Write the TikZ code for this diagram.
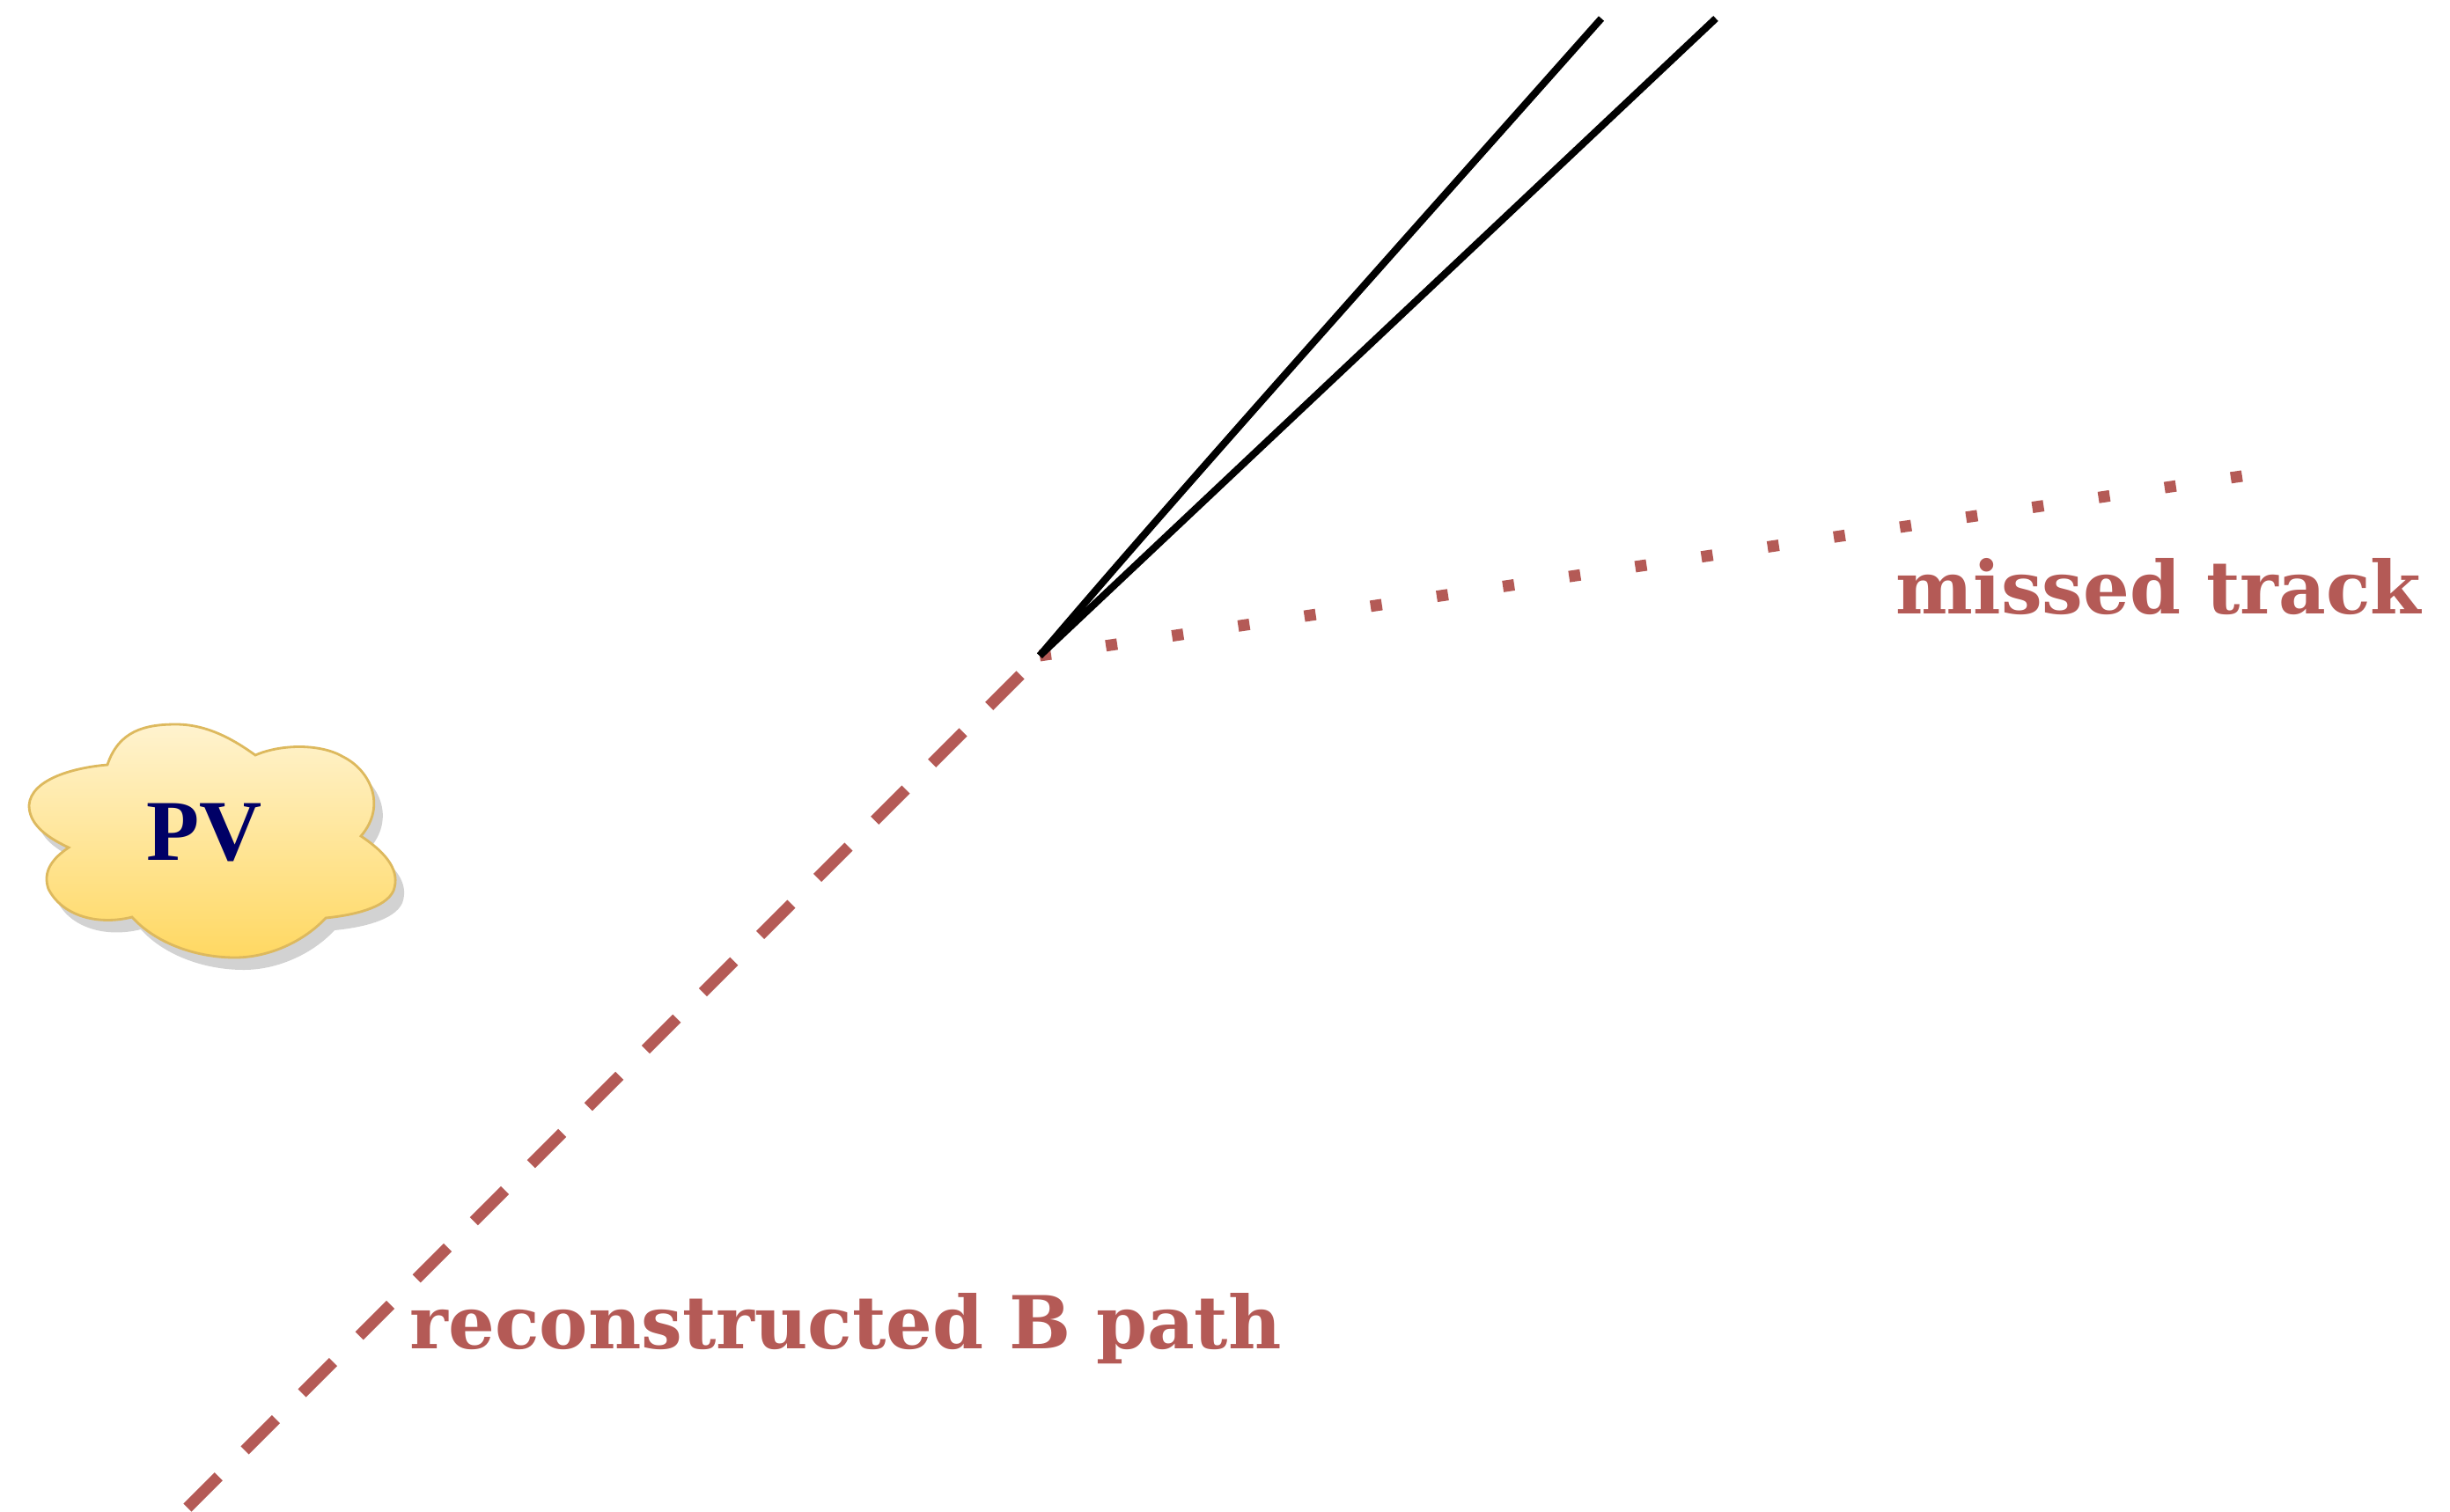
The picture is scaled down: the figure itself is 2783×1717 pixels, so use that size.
\documentclass[tikz,border=0pt]{standalone}
\usepackage{fontspec}
\setmainfont{DejaVu Serif}
\newfontfamily\pvfont{Liberation Serif}
\usepackage{xcolor}
\definecolor{brick}{HTML}{B45A56}
\definecolor{navy}{HTML}{000066}
\definecolor{cloudtop}{HTML}{FFF3CF}
\definecolor{cloudbot}{HTML}{FFD862}
\definecolor{cloudedge}{HTML}{DDB95E}
\definecolor{cloudshade}{HTML}{D2D2D2}
\newcommand{\cloudpath}{(122,869) .. controls (135,830) and (165,823) .. (200,823)
  .. controls (235,823) and (265,840) .. (290,858)
  .. controls (320,845) and (365,845) .. (390,860)
  .. controls (420,875) and (440,915) .. (410,950)
  .. controls (440,970) and (455,990) .. (447,1012)
  .. controls (438,1032) and (400,1040) .. (370,1043)
  .. controls (345,1070) and (305,1088) .. (267,1088)
  .. controls (220,1088) and (175,1070) .. (150,1042)
  .. controls (110,1052) and (70,1040) .. (55,1010)
  .. controls (48,990) and (60,975) .. (78,963)
  .. controls (50,950) and (33,935) .. (33,915)
  .. controls (35,885) and (85,872) .. (122,869) -- cycle}
\tikzset{
  trackline/.style={black,line width=2.3pt},
  misspath/.style={brick,line width=3.7pt},
  tracklabel/.style={font=\bfseries\fontsize{23.6}{26}\selectfont,text=brick,anchor=base west,inner sep=0pt},
}
\begin{document}
\begin{tikzpicture}[x=0.01cm,y=-0.01cm]
  \useasboundingbox (0,0) rectangle (2783,1717);
  \coordinate (vtx) at (1181,745);
  \coordinate (bstart) at (213,1713);
  \coordinate (missend) at (2553,540);
  \coordinate (tracka) at (1819,21);
  \coordinate (trackb) at (1949,21);
  \fill[cloudshade,shift={(10,14)}] \cloudpath;
  \shadedraw[top color=cloudtop,bottom color=cloudbot,draw=cloudedge,line width=0.8pt] \cloudpath;
  \node[font=\pvfont\bfseries\fontsize{28}{30}\selectfont,text=navy,anchor=base,inner sep=0pt] (pv) at (232,977) {PV};
  \draw[misspath,dash pattern=on 50*0.01cm off 42*0.01cm] (bstart) -- (vtx);
  \draw[misspath,dash pattern=on 13*0.01cm off 63*0.01cm] (vtx) -- (missend);
  \draw[trackline] (vtx) .. controls (1330,570) and (1500,380) .. (tracka);
  \draw[trackline] (vtx) -- (trackb);
  \node[tracklabel] (misslabel) at (2153,697) {missed track};
  \node[tracklabel] (blabel) at (465,1532) {reconstructed B path};
\end{tikzpicture}
\end{document}
